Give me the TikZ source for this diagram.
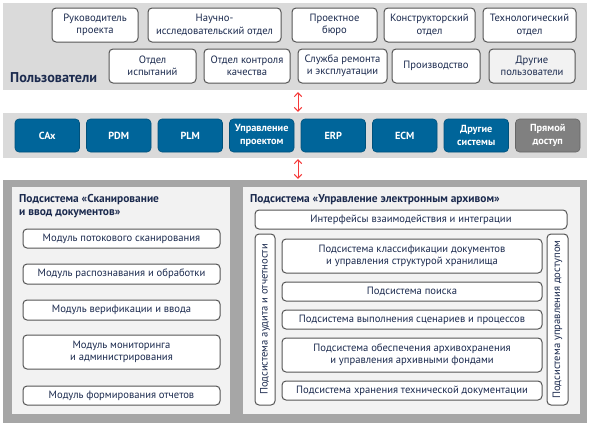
\documentclass[tikz,border=0pt]{standalone}
\usepackage{fontspec}
\setmainfont{PT Sans}
\usepackage{tikz}
\usetikzlibrary{arrows.meta}

\definecolor{navy}{HTML}{1B2A4E}
\definecolor{panelGray}{HTML}{DADADA}
\definecolor{frameGray}{HTML}{A6A6A6}
\definecolor{subGray}{HTML}{F2F2F2}
\definecolor{sysBlue}{HTML}{00659A}
\definecolor{directGray}{HTML}{808080}
\definecolor{boxBorder}{HTML}{555555}
\definecolor{linkRed}{HTML}{F53A3A}

\begin{document}
\begin{tikzpicture}[x=1pt, y=-1pt]
\tikzstyle{panel} =
[
	shape			= rectangle,		% shape
	draw			= none,				% no border
	inner sep		= 0pt				% size comes from minimum width/height
]
\tikzstyle{myBox} =
[
	shape			= rectangle,		% shape
	rounded corners	= 4pt,				% roundness of the corners
	line width		= 1pt,				% thickness of the border
	draw			= boxBorder,		% colour of the border
	fill			= white,			% filling colour
	text			= navy,				% colour of the text
	font			= \fontsize{10.6}{12.2}\selectfont,	% used font
	align			= center,			% several lines
	inner sep		= 0pt				% size comes from minimum width/height
]
\tikzstyle{sysBox} =
[
	shape			= rectangle,		% shape
	rounded corners	= 4pt,				% roundness of the corners
	line width		= 0.6pt,			% thickness of the border
	draw			= sysBlue!80!black,	% colour of the border
	fill			= sysBlue,			% filling colour
	text			= white,			% colour of the text
	font			= \fontsize{10.3}{12.2}\selectfont\bfseries,	% used font
	align			= center,			% several lines
	minimum width	= 64.5pt,			% | size of every box
	minimum height	= 33pt,				% |
	inner sep		= 0pt
]
\tikzstyle{title} =
[
	text			= navy,				% colour of the text
	font			= \fontsize{11.4}{12.5}\selectfont\bfseries,	% used font
	align			= left,				% several lines
	inner sep		= 0pt
]
\tikzstyle{link} =
[
	draw			= linkRed,			% colour of the line
	line width		= 1pt,				% thickness of the line
	{Straight Barb[length=3.8pt,width=7.5pt]}-{Straight Barb[length=3.8pt,width=7.5pt]}
]

\useasboundingbox [fill=white] (0,0) rectangle (591,426);

% users
\node (users) [panel, fill=panelGray, minimum width=584pt, minimum height=87pt] at (295,46.5) {};
\node (usersLabel) [title, font=\fontsize{14.2}{15}\selectfont\bfseries, anchor=base west] at (10,82) {Пользователи};
\node (head) [myBox, minimum width=86pt, minimum height=34pt] at (95,25) {Руководитель\\проекта};
\node (research) [myBox, minimum width=133pt, minimum height=34pt] at (214.5,25) {Научно-\\исследовательский отдел};
\node (bureau) [myBox, minimum width=85pt, minimum height=34pt] at (334.5,25) {Проектное\\бюро};
\node (design) [myBox, minimum width=91pt, minimum height=34pt] at (429.5,25) {Конструкторский\\отдел};
\node (techno) [myBox, minimum width=93pt, minimum height=34pt] at (529.5,25) {Технологический\\отдел};
\node (tests) [myBox, minimum width=87pt, minimum height=34pt] at (152.5,66) {Отдел\\испытаний};
\node (quality) [myBox, minimum width=86pt, minimum height=34pt] at (247,66) {Отдел контроля\\качества};
\node (service) [myBox, minimum width=89pt, minimum height=34pt] at (342.5,66) {Служба ремонта\\и эксплуатации};
\node (production) [myBox, minimum width=88pt, minimum height=34pt] at (436,66) {Производство};
\node (otherUsers) [myBox, fill=subGray, minimum width=86pt, minimum height=34pt] at (532,66) {Другие\\пользователи};

% systems
\node (systems) [panel, fill=panelGray, minimum width=584pt, minimum height=45pt] at (295,135.5) {};
\node (cax) [sysBox] at (47.25,135.5) {CAx};
\node (pdm) [sysBox] at (118.75,135.5) {PDM};
\node (plm) [sysBox] at (190.25,135.5) {PLM};
\node (project) [sysBox] at (261.75,135.5) {Управление\\проектом};
\node (erp) [sysBox] at (333.25,135.5) {ERP};
\node (ecm) [sysBox] at (404.75,135.5) {ECM};
\node (otherSys) [sysBox] at (476.25,135.5) {Другие\\системы};
\node (direct) [sysBox, fill=directGray, draw=directGray!80!black] at (547.75,135.5) {Прямой\\доступ};

% archive
\node (archive) [panel, fill=frameGray, minimum width=584pt, minimum height=243pt] at (295,301.5) {};
\node (scan) [panel, fill=subGray, minimum width=218pt, minimum height=227pt] at (121,300.5) {};
\node (manage) [panel, fill=subGray, minimum width=337pt, minimum height=227pt] at (411.5,300.5) {};

\node (scanTitle) [title, anchor=north west] at (19,194.5) {Подсистема «Сканирование\\и ввод документов»};
\node (stream) [myBox, minimum width=197pt, minimum height=19pt] at (121.5,238.5) {Модуль потокового сканирования};
\node (recognize) [myBox, minimum width=197pt, minimum height=20pt] at (121.5,274) {Модуль распознавания и обработки};
\node (verify) [myBox, minimum width=197pt, minimum height=20pt] at (121.5,310) {Модуль верификации и ввода};
\node (monitor) [myBox, minimum width=197pt, minimum height=34pt] at (121.5,352) {Модуль мониторинга\\и администрирования};
\node (reports) [myBox, minimum width=197pt, minimum height=19pt] at (121.5,395.5) {Модуль формирования отчетов};

\node (manageTitle) [title, anchor=north west] at (250,194.5) {Подсистема «Управление электронным архивом»};
\node (interfaces) [myBox, minimum width=312pt, minimum height=19pt] at (411,219.5) {Интерфейсы взаимодействия и интеграции};
\node (audit) [myBox, rotate=90, minimum width=171pt, minimum height=20pt] at (265,319.5) {Подсистема аудита и отчетности};
\node (access) [myBox, rotate=90, minimum width=171pt, minimum height=21pt] at (557.5,319.5) {Подсистема управления доступом};
\node (classify) [myBox, minimum width=260pt, minimum height=34pt] at (412,256) {Подсистема классификации документов\\и управления структурой хранилища};
\node (search) [myBox, minimum width=260pt, minimum height=19pt] at (412,291.5) {Подсистема поиска};
\node (workflow) [myBox, minimum width=260pt, minimum height=19pt] at (412,319.5) {Подсистема выполнения сценариев и процессов};
\node (storage) [myBox, minimum width=260pt, minimum height=34pt] at (412,355) {Подсистема обеспечения архивохранения\\и управления архивными фондами};
\node (techDocs) [myBox, minimum width=260pt, minimum height=19pt] at (412,390.5) {Подсистема хранения технической документации};

% links
\draw [link, shorten <=2pt, shorten >=1pt] ([xshift=3pt]users.south) -- ([xshift=3pt]systems.north);
\draw [link, shorten <=1pt, shorten >=1pt] ([xshift=3pt]systems.south) -- ([xshift=3pt]archive.north);
\end{tikzpicture}
\end{document}
